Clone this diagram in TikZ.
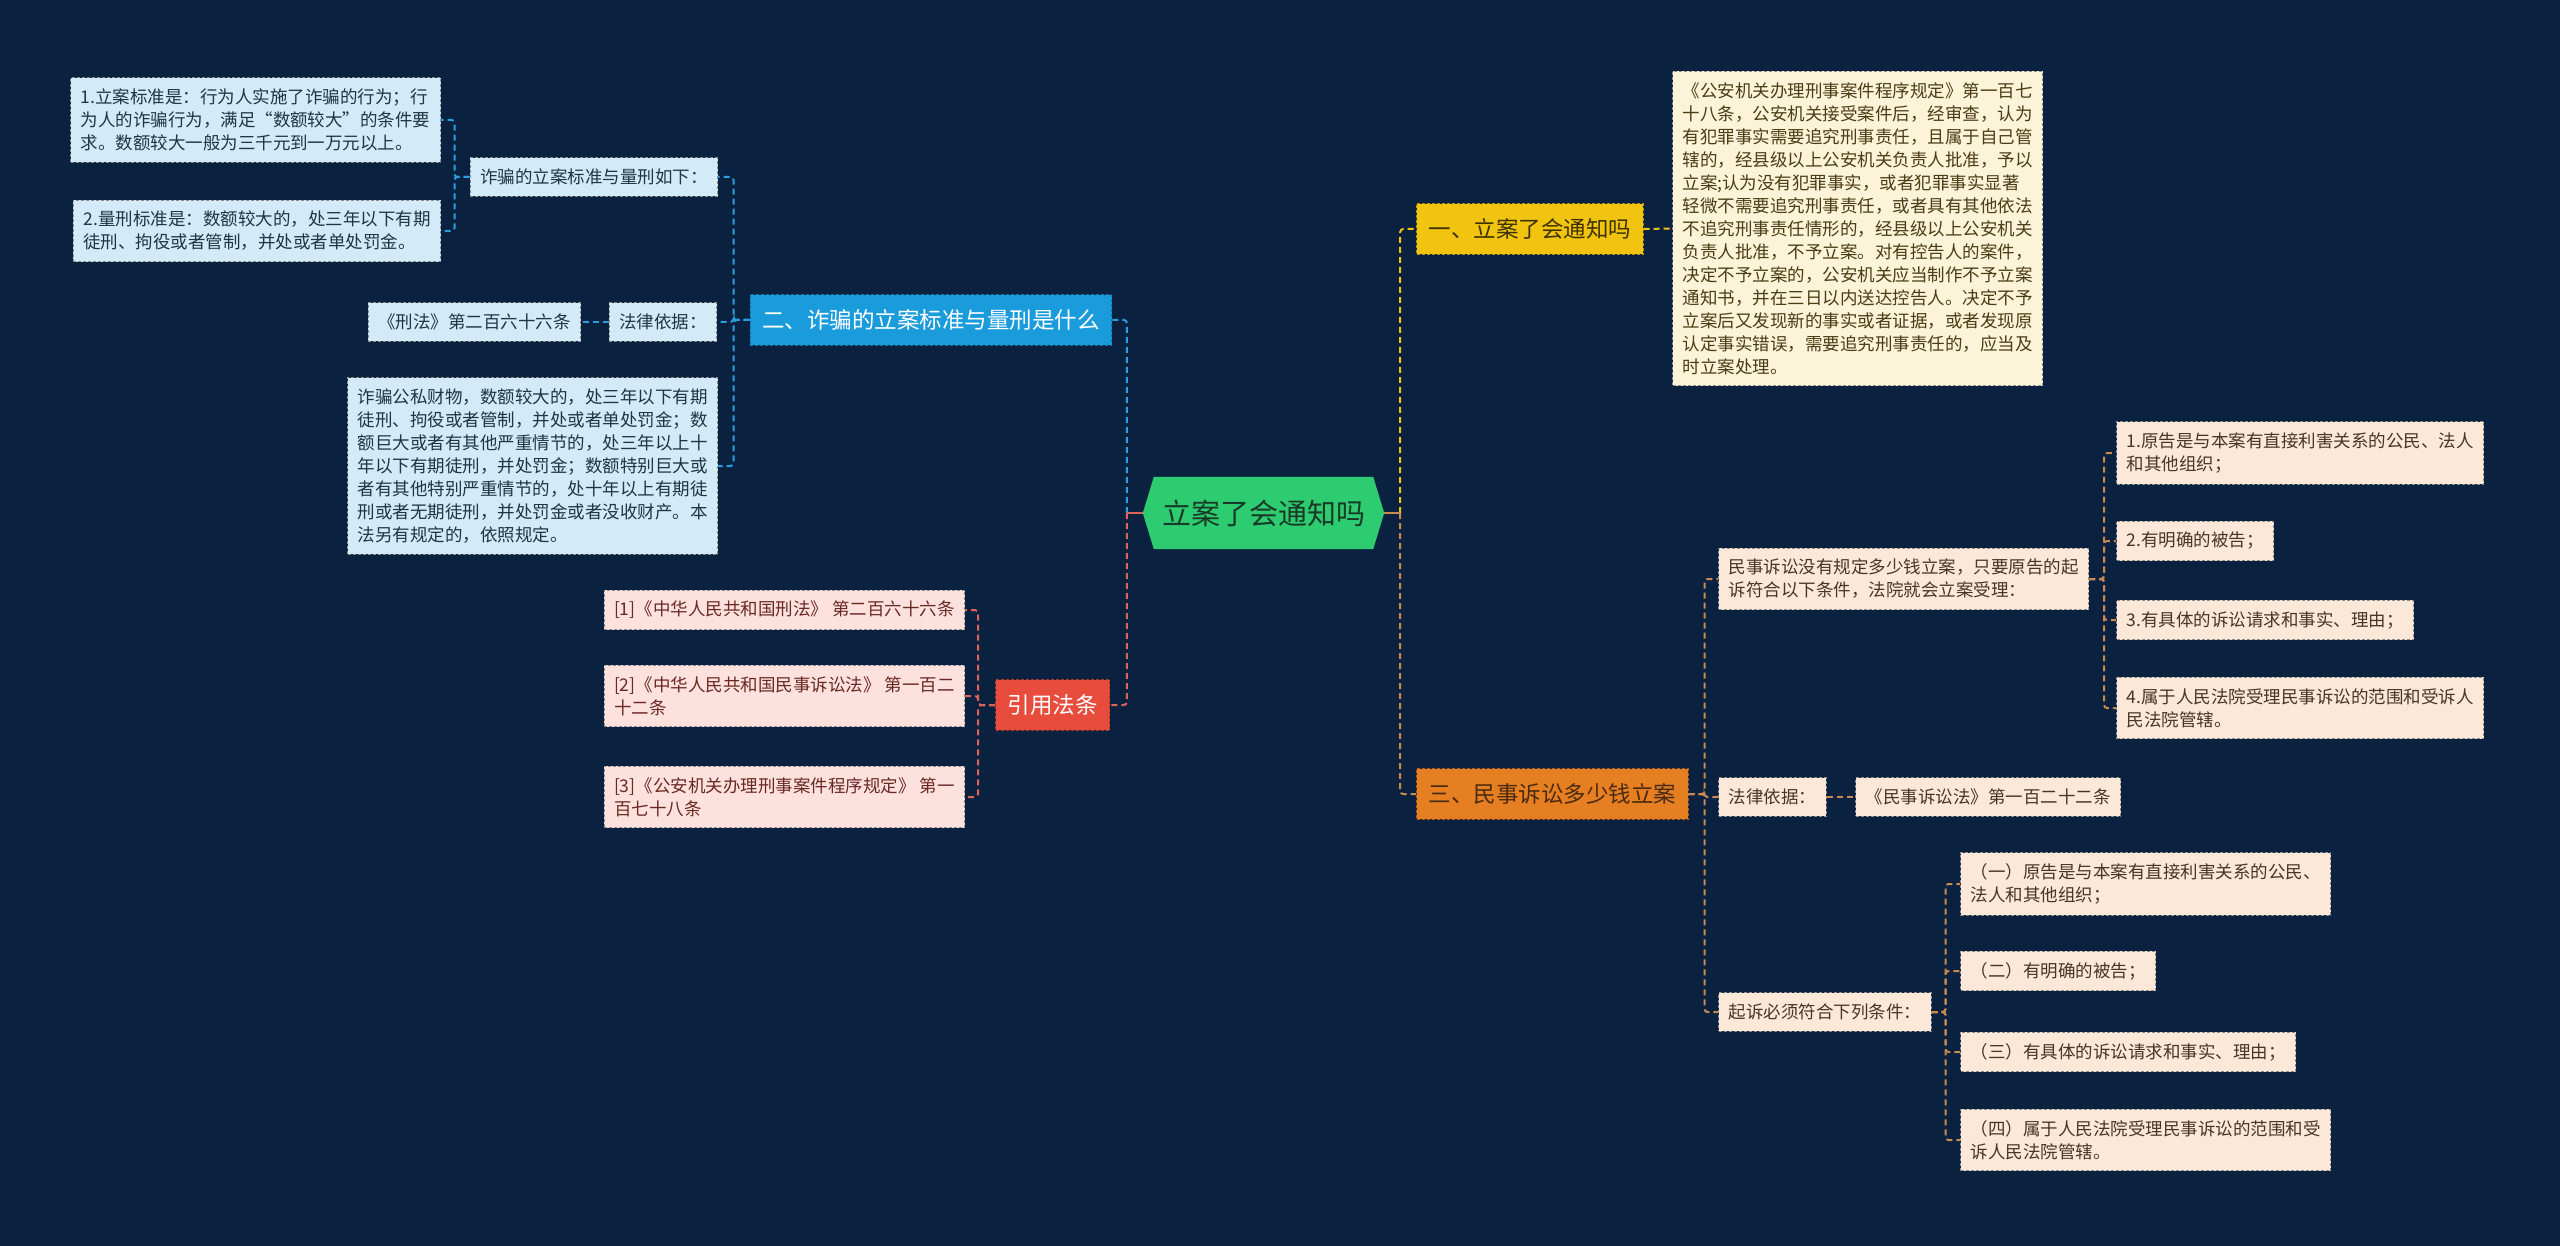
\documentclass[tikz,border=0pt]{standalone}
\usepackage{fontspec}
\setmainfont{Noto Sans CJK SC}
\usetikzlibrary{backgrounds}
\definecolor{bg}{HTML}{0B2140}
\definecolor{cgreen}{HTML}{2ECC71}
\definecolor{ctext}{HTML}{183A26}
\definecolor{bluemain}{HTML}{1A9BDC}
\definecolor{bluefill}{HTML}{D3EBF8}
\definecolor{bluetext}{HTML}{1E3548}
\definecolor{bluecol}{HTML}{2A9FE0}
\definecolor{redmain}{HTML}{E74C3C}
\definecolor{redfill}{HTML}{FDE1DD}
\definecolor{redtext}{HTML}{6A2822}
\definecolor{redcol}{HTML}{DE6358}
\definecolor{yelmain}{HTML}{F1C40F}
\definecolor{yeltext}{HTML}{3E3200}
\definecolor{yelfill}{HTML}{FCF4D9}
\definecolor{yelctext}{HTML}{4A3D15}
\definecolor{yelcol}{HTML}{EEC21A}
\definecolor{ormain}{HTML}{E67E22}
\definecolor{ortext}{HTML}{4A2A10}
\definecolor{orfill}{HTML}{FBE8D9}
\definecolor{orctext}{HTML}{4A3424}
\definecolor{orcol}{HTML}{C98A50}
\tikzset{
  leaf/.style={draw=black!45, dash pattern=on 3pt off 2pt, line width=1pt,
    inner xsep=10pt, inner ysep=11pt, align=left,
    font=\fontsize{17.5}{23}\selectfont},
  mainbox/.style={draw=#1!75!black, dash pattern=on 3pt off 2pt, line width=1pt,
    fill=#1, inner xsep=12pt, inner ysep=15pt,
    font=\fontsize{22.5}{27}\selectfont},
  bluechild/.style={leaf, fill=bluefill, text=bluetext},
  redchild/.style={leaf, fill=redfill, text=redtext},
  yelchild/.style={leaf, fill=yelfill, text=yelctext},
  orchild/.style={leaf, fill=orfill, text=orctext},
  con/.style={dash pattern=on 6pt off 4pt, line width=2pt, rounded corners=3pt},
}
\begin{document}
\begin{tikzpicture}[x=1pt,y=-1pt]
\useasboundingbox (0,0) rectangle (2560,1246);
% center
\node[minimum width=219pt, minimum height=72pt, inner sep=0pt,
  font=\fontsize{29}{34}\selectfont, text=ctext] (c) at (1263.5,513) {立案了会通知吗};
\coordinate (cw) at ([xshift=-11pt]c.west);
\coordinate (ce) at ([xshift=11pt]c.east);
\begin{scope}[on background layer]
  \fill[bg] (0,0) rectangle (2560,1246);
  \fill[cgreen] (cw) -- (c.north west) -- (c.north east) -- (ce) -- (c.south east) -- (c.south west) -- cycle;
\end{scope}

% ---------- left: blue branch
\node[mainbox=bluemain, text=white, anchor=east] (blue) at (1112,320) {二、诈骗的立案标准与量刑是什么};
\node[bluechild, anchor=east] (A) at (718,177) {诈骗的立案标准与量刑如下：};
\node[bluechild, anchor=east] (A1) at (441,120) {1.立案标准是：行为人实施了诈骗的行为；行\\为人的诈骗行为，满足“数额较大”的条件要\\求。数额较大一般为三千元到一万元以上。};
\node[bluechild, anchor=east] (A2) at (441,231) {2.量刑标准是：数额较大的，处三年以下有期\\徒刑、拘役或者管制，并处或者单处罚金。};
\node[bluechild, anchor=east] (B) at (717,322) {法律依据：};
\node[bluechild, anchor=east] (B1) at (581,322) {《刑法》第二百六十六条};
\node[bluechild, anchor=east] (C) at (718,466) {诈骗公私财物，数额较大的，处三年以下有期\\徒刑、拘役或者管制，并处或者单处罚金；数\\额巨大或者有其他严重情节的，处三年以上十\\年以下有期徒刑，并处罚金；数额特别巨大或\\者有其他特别严重情节的，处十年以上有期徒\\刑或者无期徒刑，并处罚金或者没收财产。本\\法另有规定的，依照规定。};

% ---------- left: red branch
\node[mainbox=redmain, text=white, anchor=east] (red) at (1110,705) {引用法条};
\node[redchild, anchor=east] (R1) at (965,610) {[1]《中华人民共和国刑法》 第二百六十六条};
\node[redchild, anchor=east] (R2) at (965,696) {[2]《中华人民共和国民事诉讼法》 第一百二\\十二条};
\node[redchild, anchor=east] (R3) at (965,797) {[3]《公安机关办理刑事案件程序规定》 第一\\百七十八条};

% ---------- right: yellow branch
\node[mainbox=yelmain, text=yeltext, anchor=west] (yel) at (1416,229) {一、立案了会通知吗};
\node[yelchild, anchor=west] (Y1) at (1672,228.5) {《公安机关办理刑事案件程序规定》第一百七\\十八条，公安机关接受案件后，经审查，认为\\有犯罪事实需要追究刑事责任，且属于自己管\\辖的，经县级以上公安机关负责人批准，予以\\立案;认为没有犯罪事实，或者犯罪事实显著\\轻微不需要追究刑事责任，或者具有其他依法\\不追究刑事责任情形的，经县级以上公安机关\\负责人批准，不予立案。对有控告人的案件，\\决定不予立案的，公安机关应当制作不予立案\\通知书，并在三日以内送达控告人。决定不予\\立案后又发现新的事实或者证据，或者发现原\\认定事实错误，需要追究刑事责任的，应当及\\时立案处理。};

% ---------- right: orange branch
\node[mainbox=ormain, text=ortext, anchor=west] (or) at (1416,794) {三、民事诉讼多少钱立案};
\node[orchild, anchor=west] (O1) at (1718,579) {民事诉讼没有规定多少钱立案，只要原告的起\\诉符合以下条件，法院就会立案受理：};
\node[orchild, anchor=west] (O2) at (1718,797) {法律依据：};
\node[orchild, anchor=west] (O2a) at (1855,797) {《民事诉讼法》第一百二十二条};
\node[orchild, anchor=west] (O3) at (1718,1012) {起诉必须符合下列条件：};
\node[orchild, anchor=west] (P1) at (2116,453) {1.原告是与本案有直接利害关系的公民、法人\\和其他组织；};
\node[orchild, anchor=west] (P2) at (2116,541) {2.有明确的被告；};
\node[orchild, anchor=west] (P3) at (2116,620) {3.有具体的诉讼请求和事实、理由；};
\node[orchild, anchor=west] (P4) at (2116,708) {4.属于人民法院受理民事诉讼的范围和受诉人\\民法院管辖。};
\node[orchild, anchor=west] (Q1) at (1960,884) {（一）原告是与本案有直接利害关系的公民、\\法人和其他组织；};
\node[orchild, anchor=west] (Q2) at (1960,971) {（二）有明确的被告；};
\node[orchild, anchor=west] (Q3) at (1960,1052) {（三）有具体的诉讼请求和事实、理由；};
\node[orchild, anchor=west] (Q4) at (1960,1140) {（四）属于人民法院受理民事诉讼的范围和受\\诉人民法院管辖。};

% ---------- connectors
\coordinate (lt) at ([xshift=-16pt]cw);
\coordinate (rt) at ([xshift=16pt]ce);
\draw[con, draw=bluecol] (lt) |- (blue.east);
\draw[con, draw=redcol] (lt) |- (red.east);
\draw[redcol, line width=2pt] (cw) -- (lt);
\draw[con, draw=yelcol] (rt) |- (yel.west);
\draw[con, draw=orcol] (rt) |- (or.west);
\draw[orcol, line width=2pt] (ce) -- (rt);

\foreach \n in {A,B,C} \draw[con, draw=bluecol] (blue.west) -- ++(-16,0) |- (\n.east);
\foreach \n in {A1,A2} \draw[con, draw=bluecol] (A.west) -- ++(-15,0) |- (\n.east);
\draw[con, draw=bluecol] (B.west) -- (B1.east);
\foreach \n in {R1,R2,R3} \draw[con, draw=redcol] (red.west) -- ++(-17,0) |- (\n.east);
\draw[con, draw=yelcol] (yel.east) -- (Y1.west);
\foreach \n in {O1,O2,O3} \draw[con, draw=orcol] (or.east) -- ++(16,0) |- (\n.west);
\draw[con, draw=orcol] (O2.east) -- (O2a.west);
\foreach \n in {P1,P2,P3,P4} \draw[con, draw=orcol] (O1.east) -- ++(15,0) |- (\n.west);
\foreach \n in {Q1,Q2,Q3,Q4} \draw[con, draw=orcol] (O3.east) -- ++(14,0) |- (\n.west);
\end{tikzpicture}
\end{document}
